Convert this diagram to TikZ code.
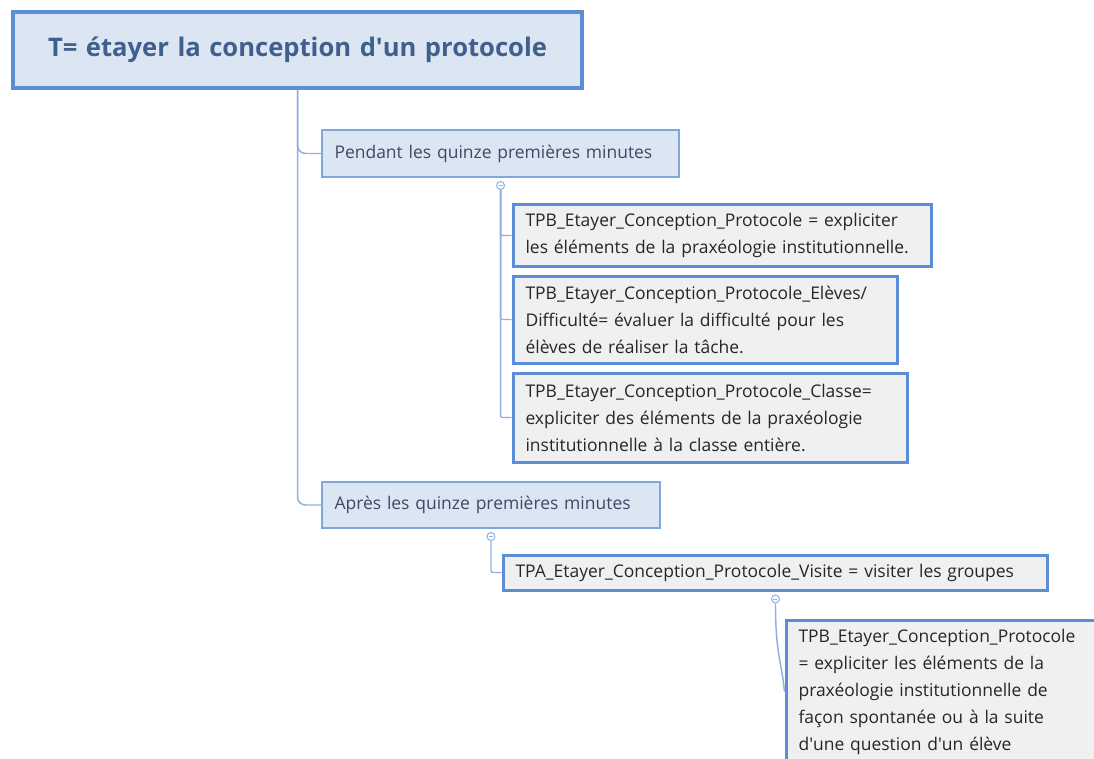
\documentclass[tikz,border=0pt]{standalone}
\usepackage{fontspec}
\setmainfont{Open Sans}
\usetikzlibrary{positioning}

\definecolor{rootfill}{HTML}{DCE6F2}
\definecolor{rootline}{HTML}{5B8ED6}
\definecolor{roottext}{HTML}{3F5F8E}
\definecolor{topicline}{HTML}{7FA6DE}
\definecolor{topictext}{HTML}{3B4A66}
\definecolor{leaffill}{HTML}{F0F0F0}
\definecolor{leaftext}{HTML}{262626}
\definecolor{connline}{HTML}{8FB0E0}

\tikzset{
  mmbox/.style={draw, rectangle, anchor=north west, inner xsep=9.4pt, inner ysep=0pt,
    align=left, font=\fontsize{13.1}{20.25}\selectfont},
  rootbox/.style={mmbox, draw=rootline, fill=rootfill, line width=3pt, align=center,
    text=roottext, font=\fontsize{19.2}{22}\selectfont\bfseries},
  topic/.style={mmbox, draw=topicline, fill=rootfill, line width=1.5pt, text=topictext},
  leaf/.style={mmbox, draw=rootline, fill=leaffill, line width=2.25pt, text=leaftext},
  knob/.style={circle, draw=connline, fill=white, line width=0.75pt, inner sep=0pt,
    minimum size=6pt},
  conn/.style={draw=connline, line width=1.1pt},
}

\begin{document}
\begin{tikzpicture}[x=0.75pt,y=-0.75pt]
    \useasboundingbox (0,0) rectangle (1094,759);
    \clip (0,0) rectangle (1094,759);

    % Main topic
    \node[rootbox, minimum width=426.75pt, minimum height=57pt, text width=408pt]
        (root) at (11,10) {T= étayer la conception d\textquotesingle un protocole};

    % Subtopics
    \node[topic, minimum height=35.25pt, text width=249pt]
        (pendant) at (321,129) {Pendant les quinze premières minutes};
    \node[topic, minimum height=34.5pt, text width=234.7pt]
        (apres) at (321,481) {Après les quinze premières minutes};

    % Leaves under "Pendant"
    \node[leaf, minimum height=45.75pt, text width=295.4pt]
        (tpbA) at (511.5,203.5) {TPB\_Etayer\_Conception\_Protocole = expliciter\\
        les éléments de la praxéologie institutionnelle.};
    \node[leaf, minimum height=65.25pt, text width=269.9pt]
        (tpbB) at (511.5,274.5) {TPB\_Etayer\_Conception\_Protocole\_Elèves/\\
        Difficulté= évaluer la difficulté pour les\\
        élèves de réaliser la tâche.};
    \node[leaf, minimum height=66.75pt, text width=276.7pt]
        (tpbC) at (511.5,371.5) {TPB\_Etayer\_Conception\_Protocole\_Classe=\\
        expliciter des éléments de la praxéologie\\
        institutionnelle à la classe entière.};

    % Leaves under "Après"
    \node[leaf, minimum height=26.25pt, text width=389.9pt]
        (visite) at (501.5,553.5) {TPA\_Etayer\_Conception\_Protocole\_Visite = visiter les groupes};
    \node[leaf, minimum height=107.25pt, text width=255.2pt]
        (spont) at (784.5,618.5) {TPB\_Etayer\_Conception\_Protocole\\
        = expliciter les éléments de la\\
        praxéologie institutionnelle de\\
        façon spontanée ou à la suite\\
        d\textquotesingle une question d\textquotesingle un élève};

    % Collapse knobs
    \node[knob, below=2.25pt of pendant] (kp) {};
    \node[knob, below=2.25pt of apres] (ka) {};
    \node[knob, below=2.25pt of visite] (kv) {};

    % Connectors
    \path[conn, rounded corners=6pt] (root.south) |- (pendant.west);
    \path[conn, rounded corners=6pt] (root.south) |- (apres.west);
    \path[conn, rounded corners=1pt] (kp.south) |- (tpbA.west);
    \path[conn, rounded corners=1pt] (kp.south) |- (tpbB.west);
    \path[conn, rounded corners=1pt] (kp.south) |- (tpbC.west);
    \path[conn, rounded corners=1pt] (ka.south) |- (visite.west);
    \path[conn] (kv.south) .. controls +(0,50) and +(-3,-30) .. (spont.west);
    \foreach \k in {kp,ka,kv}
        \draw[connline, line width=0.6pt] ([xshift=-1.5pt]\k.center) -- ([xshift=1.5pt]\k.center);
\end{tikzpicture}
\end{document}
